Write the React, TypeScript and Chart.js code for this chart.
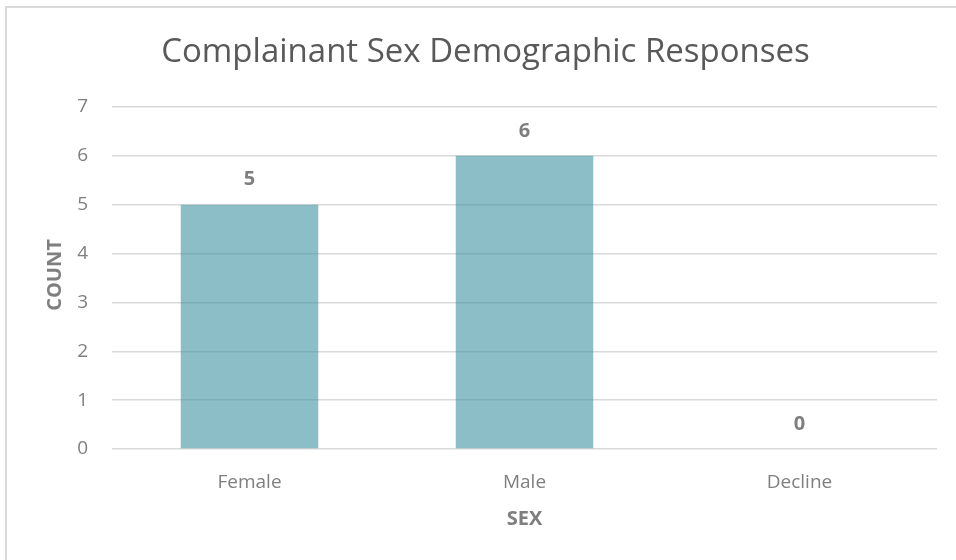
import React, { useEffect, useRef } from "react";
import { Chart, registerables } from "chart.js";

Chart.register(...registerables);

const categories: string[] = ["Female", "Male", "Decline"];
const counts: number[] = [5, 6, 0];
const yTicks: number[] = [0, 1, 2, 3, 4, 5, 6, 7];
const chartTitle = "Complainant Sex Demographic Responses";
const xTitle = "SEX";
const yTitle = "COUNT";

const FONT = "'Open Sans', 'Noto Sans', sans-serif";

const overlayPlugin = {
  id: "overlay",
  afterDatasetsDraw(chart: any) {
    const ctx = chart.ctx as CanvasRenderingContext2D;
    const area = chart.chartArea;
    ctx.save();
    // title
    ctx.fillStyle = "#595959";
    ctx.font = `33px ${FONT}`;
    ctx.textAlign = "center";
    ctx.textBaseline = "middle";
    ctx.fillText(chartTitle, (area.left + area.right) / 2 - 39, 53);
    // data labels
    const meta = chart.getDatasetMeta(0);
    ctx.font = `bold 20px ${FONT}`;
    ctx.fillStyle = "#7f7f7f";
    meta.data.forEach((el: any, i: number) => {
      ctx.fillText(String(counts[i]), el.x, el.y - 25);
    });
    // axis titles
    ctx.font = `bold 20px ${FONT}`;
    ctx.fillStyle = "#7f7f7f";
    ctx.fillText(xTitle, (area.left + area.right) / 2, 519);
    ctx.translate(55, 275);
    ctx.rotate(-Math.PI / 2);
    ctx.fillText(yTitle, 0, 0);
    ctx.restore();
  },
};

export default function App() {
  const ref = useRef<HTMLCanvasElement | null>(null);
  useEffect(() => {
    if (!ref.current) return;
    const chart = new Chart(ref.current, {
      type: "bar",
      data: {
        labels: categories,
        datasets: [
          {
            data: counts,
            backgroundColor: "rgba(64,146,162,0.6)",
            borderWidth: 0,
            barPercentage: 0.5,
            categoryPercentage: 1,
          },
        ],
      },
      options: {
        animation: false,
        responsive: false,
        devicePixelRatio: 1,
        layout: { padding: { top: 107, right: 19, left: 0, bottom: 0 } },
        plugins: { legend: { display: false }, tooltip: { enabled: false }, title: { display: false } },
        scales: {
          x: {
            grid: { display: false },
            border: { display: false },
            ticks: { color: "#7f7f7f", font: { family: FONT, size: 19 }, padding: 14 },
            afterFit: (s: any) => {
              s.height = 111;
            },
          },
          y: {
            min: 0,
            max: 7,
            afterBuildTicks: (s: any) => {
              s.ticks = yTicks.map((v) => ({ value: v }));
            },
            grid: { color: "#d9d9d9", lineWidth: 1.5, drawTicks: false },
            border: { display: false },
            ticks: { color: "#7f7f7f", font: { family: FONT, size: 19 }, padding: 24 },
            afterFit: (s: any) => {
              s.width = 112;
            },
          },
        },
      },
      plugins: [overlayPlugin],
    });
    return () => chart.destroy();
  }, []);
  return (
    <div style={{ position: "fixed", left: 0, top: 0, width: 956, height: 560, background: "#fff" }}>
      <div
        style={{
          position: "absolute",
          left: 5,
          top: 6,
          width: 1000,
          height: 600,
          border: "2px solid #d9d9d9",
          boxSizing: "border-box",
        }}
      />
      <canvas ref={ref} width={956} height={560} style={{ position: "absolute", left: 0, top: 0 }} />
    </div>
  );
}
